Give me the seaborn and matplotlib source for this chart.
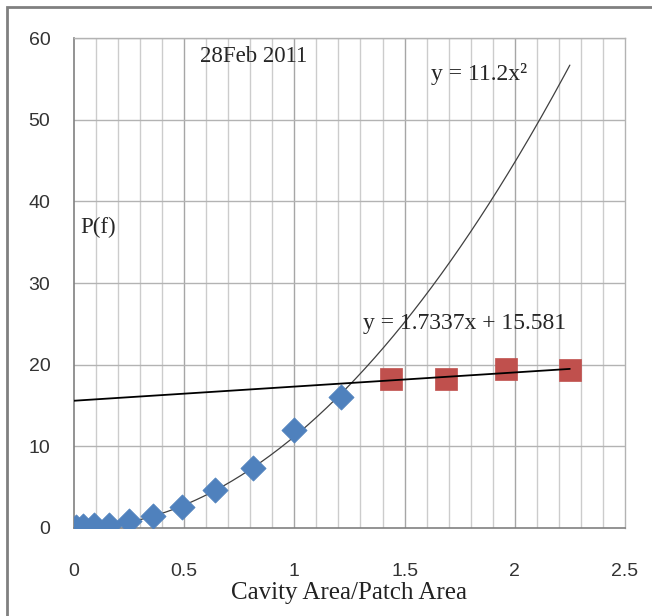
#!/usr/bin/env python3
import numpy as np
import pandas as pd
import matplotlib
matplotlib.use("Agg")
import matplotlib.pyplot as plt
import seaborn as sns
from matplotlib.patches import Rectangle

# blue diamonds (lower range) and red squares (upper range)
blue_x = [0.01, 0.04, 0.09, 0.16, 0.25, 0.36, 0.49, 0.64, 0.81, 1.00, 1.21]
blue_y = [0.1, 0.2, 0.3, 0.4, 0.8, 1.5, 2.6, 4.6, 7.4, 12.0, 16.1]
red_x = [1.44, 1.69, 1.96, 2.25]
red_y = [18.3, 18.2, 19.5, 19.4]

# trendlines as printed on the chart
quad_coef = 11.2
lin_slope, lin_icpt = 1.7337, 15.581

x_ticks = [0, 0.5, 1, 1.5, 2, 2.5]
y_ticks = [0, 10, 20, 30, 40, 50, 60]

serif = ["Liberation Serif", "DejaVu Serif"]
sans = ["Liberation Sans", "DejaVu Sans"]


def main():
    sns.set_style("white")
    plt.rcParams["font.family"] = sans

    fig = plt.figure(figsize=(6.52, 6.16), dpi=100)
    ax = fig.add_axes([0.1135, 0.143, 0.845, 0.795])

    # grid
    for gx in np.arange(0.1, 2.5, 0.1):
        major = abs(gx * 2 - round(gx * 2)) < 1e-6
        ax.axvline(gx, color="#a6a6a6" if major else "#cccccc", lw=1.0, zorder=0)
    for gy in y_ticks[1:]:
        ax.axhline(gy, color="#b3b3b3", lw=1.0, zorder=0)

    # trendlines
    qx = np.linspace(0.1, 2.25, 200)
    ax.plot(qx, quad_coef * qx ** 2, color="#404040", lw=0.9, zorder=2)
    lx = np.array([0.0, 2.25])
    ax.plot(lx, lin_slope * lx + lin_icpt, color="black", lw=1.3, zorder=4)

    df_b = pd.DataFrame({"x": blue_x, "y": blue_y})
    df_r = pd.DataFrame({"x": red_x, "y": red_y})
    sns.scatterplot(data=df_b, x="x", y="y", marker="D", s=165, color="#4f81bd",
                    edgecolor="#4f81bd", linewidth=0.5, ax=ax, zorder=3)
    sns.scatterplot(data=df_r, x="x", y="y", marker="s", s=230, color="#c0504d",
                    edgecolor="#c0504d", linewidth=0.5, ax=ax, zorder=3)

    ax.set_xlim(0, 2.5)
    ax.set_ylim(0, 60)
    ax.set_xticks(x_ticks)
    ax.set_xticklabels(["0", "0.5", "1", "1.5", "2", "2.5"])
    ax.set_yticks(y_ticks)
    ax.tick_params(axis="both", labelsize=14, colors="#404040", length=6, width=1,
                   direction="out")
    ax.tick_params(axis="x", pad=19)
    ax.tick_params(axis="y", pad=11)
    for lab in ax.get_xticklabels() + ax.get_yticklabels():
        lab.set_color("#333333")

    for side in ["top", "right"]:
        ax.spines[side].set_color("#b3b3b3")
        ax.spines[side].set_linewidth(1.0)
    ax.spines["left"].set_color("#808080")
    ax.spines["bottom"].set_color("#808080")
    ax.spines["left"].set_linewidth(1.2)
    ax.spines["bottom"].set_linewidth(1.2)

    ax.set_xlabel("Cavity Area/Patch Area", fontsize=18, family=serif,
                  color="#222222", labelpad=1.5)
    ax.set_ylabel("")

    ax.text(0.57, 57.7, "28Feb 2011", fontsize=16.5, family=serif, va="center")
    ax.text(0.03, 36.8, "P(f)", fontsize=16.5, family=serif, va="center")
    ax.text(1.62, 55.6, "y = 11.2x²", fontsize=17, family=serif, va="center")
    ax.text(1.31, 25.0, "y = 1.7337x + 15.581", fontsize=17, family=serif, va="center")

    # outer chart frame
    fig.patches.append(Rectangle((7 / 652, -0.01), 1.0, 1 - 7 / 616 + 0.01,
                                 transform=fig.transFigure, fill=False,
                                 edgecolor="#808080", lw=2))

    fig.savefig("out.png", dpi=100)


if __name__ == "__main__":
    main()
